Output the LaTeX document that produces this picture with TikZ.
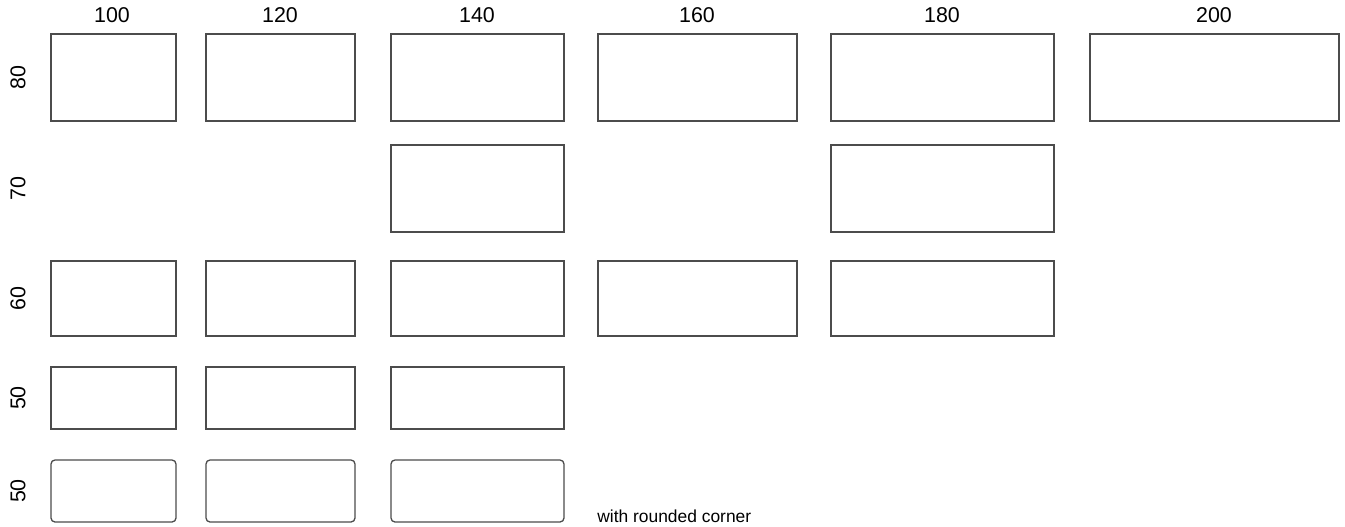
\documentclass[tikz,border=0pt]{standalone}
\usepackage{fontspec}
\setmainfont{Liberation Sans}
\usetikzlibrary{positioning}

\begin{document}
\begin{tikzpicture}[
  x=0.5pt, y=-0.5pt,
  cell/.style={rectangle, draw=black!70, line width=0.65pt,
    inner sep=0pt, fill=white},
  soft/.style={cell, rounded corners=2pt},
  col100/.style={minimum width=62.5pt},
  col120/.style={minimum width=74.5pt},
  col140/.style={minimum width=86.5pt},
  col160/.style={minimum width=99.5pt},
  col180/.style={minimum width=111.5pt},
  col200/.style={minimum width=124.5pt},
  tall/.style={minimum height=43.5pt},
  mid/.style={minimum height=37.5pt},
  low/.style={minimum height=31pt},
  head/.style={font=\fontsize{10.7}{12}\selectfont},
  side/.style={head, rotate=90}
]
\useasboundingbox (0,0) rectangle (1345,526);

% column headings
\node[head] (h100) at (112,15.5) {100};
\node[head] (h120) at (280,15.5) {120};
\node[head] (h140) at (477,15.5) {140};
\node[head] (h160) at (697,15.5) {160};
\node[head] (h180) at (942,15.5) {180};
\node[head] (h200) at (1214,15.5) {200};

% row headings
\node[side] (v80) at (18,77.5) {80};
\node[side] (v70) at (18,188.5) {70};
\node[side] (v60) at (18,298.5) {60};
\node[side] (v50) at (18,398) {50};
\node[side] (v50r) at (18,491) {50};

% row 80
\node[cell, col100, tall] (b80a) at (113.5,77.5) {};
\node[cell, col120, tall] (b80b) at (280.5,77.5) {};
\node[cell, col140, tall] (b80c) at (477.5,77.5) {};
\node[cell, col160, tall] (b80d) at (697.5,77.5) {};
\node[cell, col180, tall] (b80e) at (942.5,77.5) {};
\node[cell, col200, tall] (b80f) at (1214.5,77.5) {};

% row 70
\node[cell, col140, tall] (b70c) at (477.5,188.5) {};
\node[cell, col180, tall] (b70e) at (942.5,188.5) {};

% row 60
\node[cell, col100, mid] (b60a) at (113.5,298.5) {};
\node[cell, col120, mid] (b60b) at (280.5,298.5) {};
\node[cell, col140, mid] (b60c) at (477.5,298.5) {};
\node[cell, col160, mid] (b60d) at (697.5,298.5) {};
\node[cell, col180, mid] (b60e) at (942.5,298.5) {};

% row 50
\node[cell, col100, low] (b50a) at (113.5,398) {};
\node[cell, col120, low] (b50b) at (280.5,398) {};
\node[cell, col140, low] (b50c) at (477.5,398) {};

% row 50, rounded
\node[soft, col100, low] (r50a) at (113.5,491) {};
\node[soft, col120, low] (r50b) at (280.5,491) {};
\node[soft, col140, low] (r50c) at (477.5,491) {};

\node[anchor=base west, inner sep=0pt,
      font=\fontsize{8.7}{10}\selectfont] (note) at (597,522)
  {with rounded corner};
\end{tikzpicture}
\end{document}
